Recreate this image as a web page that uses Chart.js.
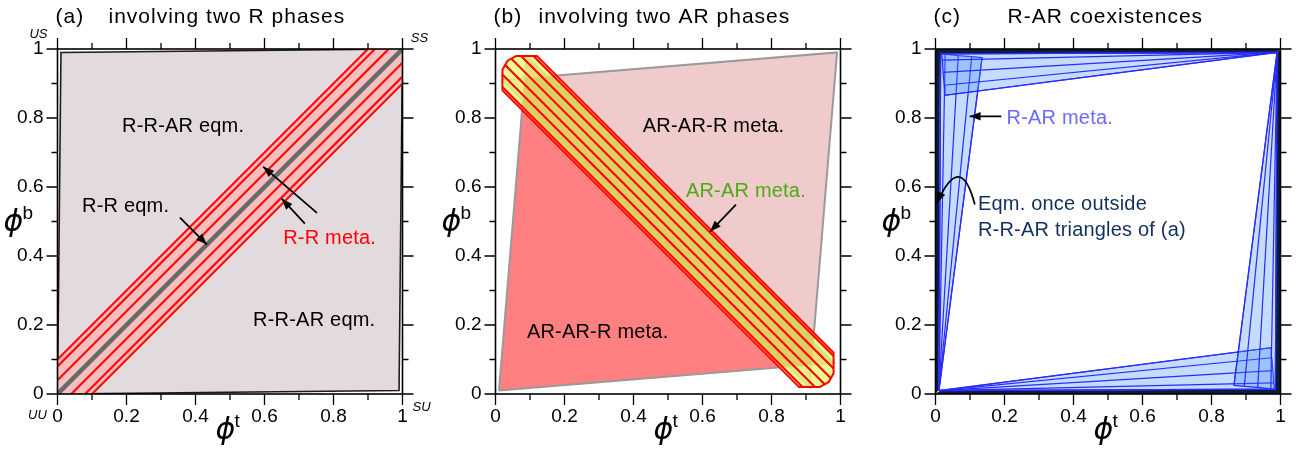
<!DOCTYPE html>
<html>
<head>
<meta charset="utf-8">
<script src="https://cdn.jsdelivr.net/npm/chart.js@4.4.1/dist/chart.umd.min.js"></script>
<style>
  html, body { margin: 0; padding: 0; background: #fff; }
  #wrap { position: relative; width: 1303px; height: 451px; overflow: hidden; }
  #wrap canvas { position: absolute; top: 0; }
</style>
</head>
<body>
<div id="wrap">
  <canvas id="panel-a" width="440" height="451" style="left:0px"></canvas>
  <canvas id="panel-b" width="440" height="451" style="left:438px"></canvas>
  <canvas id="panel-c" width="440" height="451" style="left:878px"></canvas>
</div>
<script>
// ---- axes ----
const tickLabels = ['0', '0.2', '0.4', '0.6', '0.8', '1'];
const tickValues = [0, 0.1, 0.2, 0.3, 0.4, 0.5, 0.6, 0.7, 0.8, 0.9, 1];

// ---- (a) two R phases ----
const rrarQuad = [[0, 0], [0.01, 0.99], [1, 1], [0.99, 0.01], [0, 0]];
const rrEqmLine = [[0, 0], [1, 1]];
const rrMetaOffsets = [-0.1, -0.08, -0.04, 0.04, 0.08, 0.1];   // lines y = x + c
const rrMetaBand = [[0, 0.1], [0.9, 1], [1, 1], [1, 0.9], [0.1, 0], [0, 0], [0, 0.1]];

// ---- (b) two AR phases ----
const arLowerTri = [[0.01, 0.01], [0.09, 0.98], [0.98, 0.09], [0.01, 0.01]];
const arUpperTri = [[0.02, 0.91], [0.99, 0.99], [0.91, 0.02], [0.02, 0.91]];
const arMetaBand = [[0.02, 0.88], [0.02, 0.94], [0.035, 0.966], [0.06, 0.98], [0.12, 0.98],
  [0.98, 0.12], [0.98, 0.06], [0.966, 0.035], [0.94, 0.02], [0.88, 0.02], [0.02, 0.88]];
const arMetaCore = [[0.078, 0.832], [0.085, 0.916], [0.168, 0.922], [0.922, 0.168],
  [0.916, 0.085], [0.832, 0.078], [0.078, 0.832]];
const arMetaSums = [0.91, 0.946, 0.982, 1.018, 1.054, 1.09];   // lines x + y = c

// ---- (c) R-AR coexistences ----
const apexLow = [0.01, 0.01];
const apexHigh = [0.99, 0.99];
const leftFanEnds = [[0.015, 0.987], [0.028, 0.985], [0.066, 0.981], [0.105, 0.978], [0.135, 0.975]];
const topFanEnds = [[0.017, 0.986], [0.02, 0.968], [0.022, 0.932], [0.025, 0.895], [0.027, 0.866]];
const bottomFanEnds = [[0.983, 0.014], [0.98, 0.032], [0.978, 0.068], [0.975, 0.105], [0.973, 0.134]];
const rightFanEnds = [[0.985, 0.013], [0.972, 0.015], [0.934, 0.019], [0.895, 0.022], [0.865, 0.025]];
const eqmSliverUpper = [[0, 0], [0, 1], [1, 1], [0.986, 0.987], [0.013, 0.987], [0.009, 0.012], [0, 0]];
const eqmSliverLower = [[0, 0], [1, 0], [1, 1], [0.987, 0.986], [0.987, 0.013], [0.012, 0.009], [0, 0]];

const FONT = '"Liberation Sans", Arial, Helvetica, sans-serif';

// polygon / polyline dataset, drawn through the scatter scales
function shape(points, opts) {
  return {
    data: points.map(([x, y]) => ({ x, y })),
    showLine: true,
    fill: opts.fill ? 'shape' : false,
    backgroundColor: opts.fill || 'transparent',
    borderColor: opts.line || 'transparent',
    borderWidth: opts.width || 0,
    pointRadius: 0,
    tension: 0
  };
}

// segment of x + y = c inside a polygon
function sumChord(c, poly) {
  const hits = [];
  for (let i = 0; i < poly.length - 1; i++) {
    const [x1, y1] = poly[i], [x2, y2] = poly[i + 1];
    const s1 = x1 + y1 - c, s2 = x2 + y2 - c;
    if (s1 === s2) continue;
    const t = s1 / (s1 - s2);
    if (t >= 0 && t <= 1) hits.push([x1 + t * (x2 - x1), y1 + t * (y2 - y1)]);
  }
  hits.sort((p, q) => p[0] - q[0]);
  return [hits[0], hits[hits.length - 1]];
}

// segment of y = x + c inside the unit square
function diagChord(c) {
  return [[Math.max(0, -c), Math.max(0, c)], [Math.min(1, 1 - c), Math.min(1, 1 + c)]];
}

function fan(apex, ends, fill, line) {
  const sets = [shape([apex, ...ends, apex], { fill, line, width: 1.2 })];
  ends.forEach(e => sets.push(shape([apex, e], { line, width: 1.2 })));
  return sets;
}

function arrowHead(ctx, fx, fy, tx, ty) {
  const ang = Math.atan2(ty - fy, tx - fx), len = 11, half = 4.2;
  ctx.beginPath();
  ctx.moveTo(tx, ty);
  ctx.lineTo(tx - len * Math.cos(ang) + half * Math.sin(ang), ty - len * Math.sin(ang) - half * Math.cos(ang));
  ctx.lineTo(tx - len * Math.cos(ang) - half * Math.sin(ang), ty - len * Math.sin(ang) + half * Math.cos(ang));
  ctx.closePath();
  ctx.fill();
}

function symbolLabel(ctx, x, y, sup) {
  ctx.fillStyle = '#000';
  ctx.textAlign = 'center';
  ctx.textBaseline = 'alphabetic';
  ctx.font = 'italic 300 30px "DejaVu Sans", sans-serif';
  ctx.fillText('\u03d5', x, y);
  ctx.textAlign = 'left';
  ctx.font = `19px ${FONT}`;
  ctx.fillText(sup, x + 9, y - 12);
}

// frame, ticks, titles, axis symbols, notes and arrows
const panelDecor = {
  id: 'panelDecor',
  afterDraw(chart, args, o) {
    const { ctx, chartArea: a, scales: { x, y } } = chart;
    const px = v => x.getPixelForValue(v), py = v => y.getPixelForValue(v);
    ctx.save();

    ctx.strokeStyle = '#000';
    ctx.lineWidth = 1.6;
    ctx.strokeRect(a.left, a.top, a.right - a.left, a.bottom - a.top);
    ctx.lineWidth = 1.3;
    ctx.beginPath();
    tickValues.forEach((v, i) => {
      const len = i % 2 === 0 ? 11 : 6;
      const X = px(v), Y = py(v);
      ctx.moveTo(X, a.bottom); ctx.lineTo(X, a.bottom + len);
      ctx.moveTo(X, a.top); ctx.lineTo(X, a.top - len);
      ctx.moveTo(a.left, Y); ctx.lineTo(a.left - len, Y);
      ctx.moveTo(a.right, Y); ctx.lineTo(a.right + len, Y);
    });
    ctx.stroke();

    ctx.fillStyle = '#000';
    ctx.textAlign = 'left';
    ctx.textBaseline = 'alphabetic';
    ctx.font = `21px ${FONT}`;
    ctx.letterSpacing = '1px';
    ctx.fillText(o.letter, a.left - 2, 23);
    ctx.fillText(o.title, a.left + o.titleOffset, 23);
    ctx.letterSpacing = '0px';

    symbolLabel(ctx, a.left + 168, 439, 't');
    symbolLabel(ctx, a.left - 44, 231, 'b');

    ctx.font = `italic 13px ${FONT}`;
    ctx.textAlign = 'center';
    ctx.textBaseline = 'middle';
    (o.corners || []).forEach(c => {
      ctx.fillText(c.text, (c.side === 'r' ? a.right : a.left) + c.dx, (c.edge === 'b' ? a.bottom : a.top) + c.dy);
    });

    ctx.font = `20px ${FONT}`;
    ctx.letterSpacing = '0.2px';
    ctx.textAlign = 'left';
    (o.notes || []).forEach(n => {
      ctx.fillStyle = n.color;
      ctx.fillText(n.text, px(n.x), py(n.y));
    });
    ctx.letterSpacing = '0px';

    ctx.strokeStyle = '#000';
    ctx.fillStyle = '#000';
    ctx.lineWidth = 1.8;
    (o.arrows || []).forEach(([x1, y1, x2, y2]) => {
      ctx.beginPath();
      ctx.moveTo(px(x1), py(y1));
      ctx.lineTo(px(x2), py(y2));
      ctx.stroke();
      arrowHead(ctx, px(x1), py(y1), px(x2), py(y2));
    });
    (o.curves || []).forEach(([x1, y1, cx, cy, x2, y2]) => {
      ctx.beginPath();
      ctx.moveTo(px(x1), py(y1));
      ctx.quadraticCurveTo(px(cx), py(cy), px(x2), py(y2));
      ctx.stroke();
      arrowHead(ctx, px(cx), py(cy), px(x2), py(y2));
    });
    ctx.restore();
  }
};

function axis(dir) {
  return {
    type: 'linear', min: 0, max: 1,
    grid: { display: false, drawTicks: false },
    border: { display: false },
    ticks: {
      stepSize: 0.2, autoSkip: false, maxRotation: 0,
      padding: dir === 'x' ? 11 : 14,
      color: '#000',
      font: { family: FONT, size: 19 },
      callback: v => tickLabels[Math.round(v * 5)]
    },
    afterFit: s => { if (dir === 'x') s.height = 45; else s.width = 57.5; }
  };
}

// datasets listed bottom-to-top; order makes the first one drawn first
function makePanel(id, layers, decor) {
  const n = layers.length;
  layers.forEach((d, i) => { d.order = n - i; });
  return new Chart(document.getElementById(id), {
    type: 'scatter',
    data: { datasets: layers },
    options: {
      responsive: false,
      animation: false,
      events: [],
      layout: { padding: { left: 0, right: 37.5, top: 49, bottom: 12 } },
      plugins: { legend: { display: false }, tooltip: { enabled: false }, panelDecor: decor },
      scales: { x: axis('x'), y: axis('y') }
    },
    plugins: [panelDecor]
  });
}

// (a)
makePanel('panel-a', [
  shape(rrarQuad, { fill: '#e2dadc', line: '#1c1c1c', width: 1.6 }),
  shape(rrMetaBand, { fill: '#f6c0c0' }),
  ...rrMetaOffsets.map(c => shape(diagChord(c), { line: '#ff0a0a', width: 2.2 })),
  shape(rrEqmLine, { line: '#6a6a6a', width: 4.5 })
], {
  letter: '(a)', title: 'involving two R phases', titleOffset: 51,
  corners: [
    { text: 'US', side: 'l', edge: 't', dx: -19, dy: -15 },
    { text: 'SS', side: 'r', edge: 't', dx: 17, dy: -11 },
    { text: 'UU', side: 'l', edge: 'b', dx: -20, dy: 21 },
    { text: 'SU', side: 'r', edge: 'b', dx: 19, dy: 13 }
  ],
  notes: [
    { text: 'R-R-AR eqm.', x: 0.187, y: 0.775, color: '#000' },
    { text: 'R-R eqm.', x: 0.071, y: 0.543, color: '#000' },
    { text: 'R-R meta.', x: 0.654, y: 0.45, color: '#ff0000' },
    { text: 'R-R-AR eqm.', x: 0.567, y: 0.212, color: '#000' }
  ],
  arrows: [[0.355, 0.511, 0.433, 0.433], [0.752, 0.525, 0.596, 0.659], [0.717, 0.494, 0.65, 0.566]]
});

// (b)
makePanel('panel-b', [
  shape(arUpperTri, { fill: '#f0cbcb', line: '#9a9a9a', width: 2 }),
  shape(arLowerTri, { fill: '#ff8080', line: '#9a9a9a', width: 2 }),
  shape(arMetaBand, { fill: 'rgba(230,250,120,0.78)' }),
  shape(arMetaCore, { fill: 'rgba(222,204,98,0.9)' }),
  shape(arMetaBand, { line: '#ff0000', width: 2 }),
  ...arMetaSums.map(c => shape(sumChord(c, arMetaBand), { line: '#ff0000', width: 2.1 }))
], {
  letter: '(b)', title: 'involving two AR phases', titleOffset: 43,
  notes: [
    { text: 'AR-AR-R meta.', x: 0.427, y: 0.776, color: '#000' },
    { text: 'AR-AR meta.', x: 0.552, y: 0.587, color: '#4caa14' },
    { text: 'AR-AR-R meta.', x: 0.091, y: 0.177, color: '#000' }
  ],
  arrows: [[0.697, 0.549, 0.622, 0.471]]
});

// (c)
const fanFill = 'rgba(60,140,255,0.3)', fanLine = '#2b2bff';
makePanel('panel-c', [
  shape(eqmSliverUpper, { fill: '#0b1d3a' }),
  shape(eqmSliverLower, { fill: '#0b1d3a' }),
  ...fan(apexLow, leftFanEnds, fanFill, fanLine),
  ...fan(apexHigh, topFanEnds, fanFill, fanLine),
  ...fan(apexLow, bottomFanEnds, fanFill, fanLine),
  ...fan(apexHigh, rightFanEnds, fanFill, fanLine)
], {
  letter: '(c)', title: 'R-AR coexistences', titleOffset: 72,
  notes: [
    { text: 'R-AR meta.', x: 0.206, y: 0.8, color: '#6a6aff' },
    { text: 'Eqm. once outside', x: 0.123, y: 0.549, color: '#12305e' },
    { text: 'R-R-AR triangles of (a)', x: 0.123, y: 0.474, color: '#12305e' }
  ],
  arrows: [[0.191, 0.805, 0.099, 0.805]],
  curves: [[0.114, 0.549, 0.073, 0.708, 0.004, 0.553]]
});
</script>
</body>
</html>
